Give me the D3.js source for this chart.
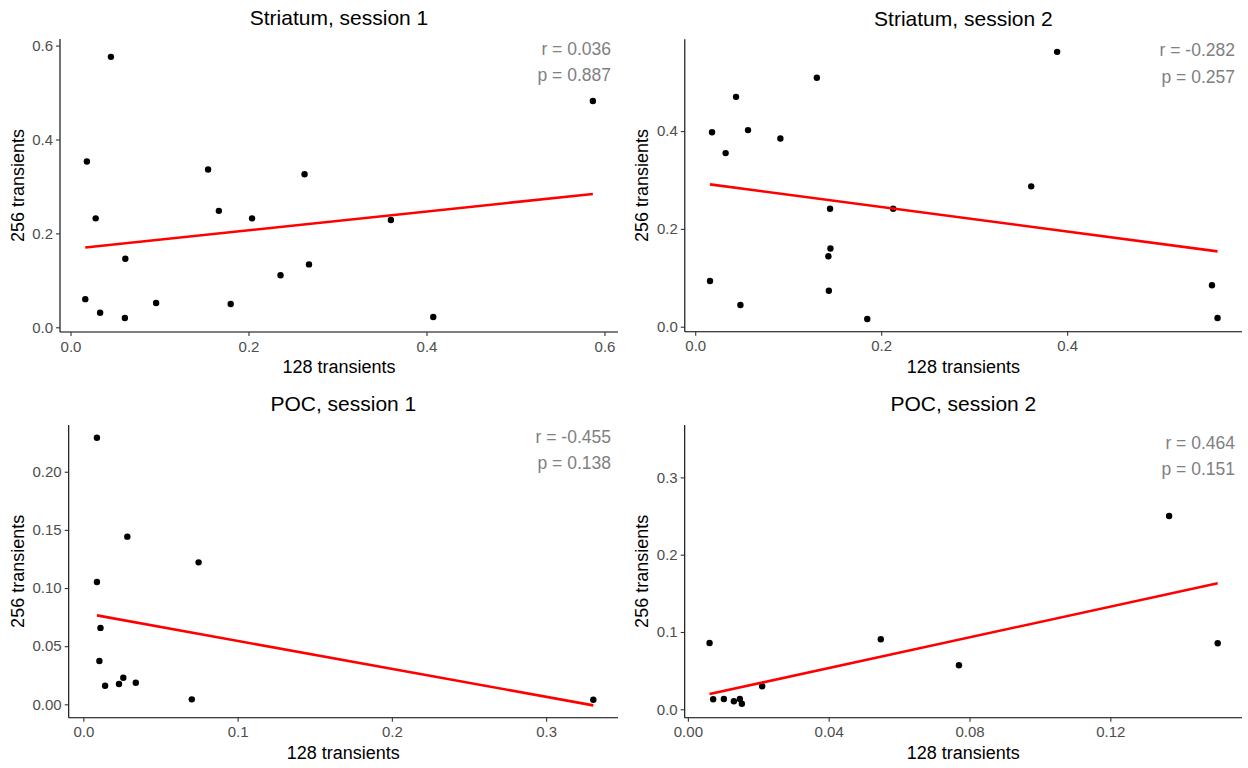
<!DOCTYPE html>
<html lang="en">
<head>
    <meta charset="UTF-8">
    <title>128 vs 256 transients</title>
    <script src="https://cdnjs.cloudflare.com/ajax/libs/d3/7.8.5/d3.min.js"></script>
    <style>
        body { margin: 0; background: #ffffff; }
        text { font-family: Arial, "Liberation Sans", sans-serif; }
    </style>
</head>
<body>
    <script>
        // Panel titles
        var titles = ["Striatum, session 1", "Striatum, session 2", "POC, session 1", "POC, session 2"];

        // Points: x = 128 transients, y = 256 transients
        var striatum1X = [0.0454, 0.0184, 0.0283, 0.0616, 0.0166, 0.0333, 0.0611, 0.0962, 0.1546, 0.1667, 0.180, 0.204, 0.236, 0.263, 0.268, 0.360, 0.4076, 0.587];
        var striatum1Y = [0.576, 0.353, 0.232, 0.146, 0.060, 0.031, 0.0198, 0.0518, 0.336, 0.248, 0.0496, 0.232, 0.111, 0.326, 0.134, 0.2285, 0.022, 0.482];

        var striatum2X = [0.0181, 0.0327, 0.0439, 0.0568, 0.0916, 0.1308, 0.0159, 0.0486, 0.145, 0.1454, 0.1432, 0.1437, 0.185, 0.2129, 0.3613, 0.3892, 0.5557, 0.5617];
        var striatum2Y = [0.3975, 0.355, 0.470, 0.402, 0.385, 0.509, 0.0935, 0.0444, 0.2413, 0.160, 0.144, 0.0736, 0.0157, 0.2413, 0.287, 0.562, 0.0847, 0.0178];

        var poc1X = [0.0088, 0.0088, 0.0285, 0.0747, 0.0111, 0.0104, 0.0141, 0.0231, 0.0259, 0.034, 0.0703, 0.3306];
        var poc1Y = [0.2293, 0.1052, 0.1442, 0.1221, 0.0657, 0.0373, 0.016, 0.0175, 0.0229, 0.0186, 0.0043, 0.0040];

        var poc2X = [0.00616, 0.00719, 0.01023, 0.01307, 0.01477, 0.01534, 0.0211, 0.0548, 0.077, 0.1367, 0.1505];
        var poc2Y = [0.0858, 0.0129, 0.0133, 0.0103, 0.0133, 0.0072, 0.0298, 0.0906, 0.0569, 0.250, 0.0854];

        // Linear fit: y at the smallest and largest x of each panel
        var fitY = [[0.170, 0.284], [0.291, 0.154], [0.0765, -0.0009], [0.0198, 0.163]];

        // Correlation labels
        var rValues = ["0.036", "-0.282", "-0.455", "0.464"];
        var pValues = ["0.887", "0.257", "0.138", "0.151"];

        // Axis limits and ticks
        var xDomains = [[-0.0118, 0.6152], [-0.0112, 0.588], [-0.0095, 0.3466], [-0.0009, 0.1574]];
        var yDomains = [[-0.010, 0.614], [-0.0102, 0.5877], [-0.0115, 0.2402], [-0.0109, 0.3678]];
        var xTicks = [[0, 0.2, 0.4, 0.6], [0, 0.2, 0.4], [0, 0.1, 0.2, 0.3], [0, 0.04, 0.08, 0.12]];
        var yTicks = [[0, 0.2, 0.4, 0.6], [0, 0.2, 0.4], [0, 0.05, 0.10, 0.15, 0.20], [0, 0.1, 0.2, 0.3]];
        var xFormats = [".1f", ".1f", ".1f", ".2f"];
        var yFormats = [".1f", ".1f", ".2f", ".1f"];

        var xs = [striatum1X, striatum2X, poc1X, poc2X];
        var ys = [striatum1Y, striatum2Y, poc1Y, poc2Y];

        // Plot area of each panel in pixels
        var boxes = [
            {left: 60, right: 618, top: 39, bottom: 332, labelTop: 9.5},
            {left: 684.8, right: 1242, top: 39.3, bottom: 331.7, labelTop: 11},
            {left: 68.7, right: 618, top: 425, bottom: 717.7, labelTop: 11.5},
            {left: 684.7, right: 1242, top: 425, bottom: 717.7, labelTop: 17.5}
        ];
        var panelX = [0, 624, 0, 624];

        var svg = d3.select("body")
            .append("svg")
            .attr("width", 1248)
            .attr("height", 768);

        boxes.forEach(function(b, i) {
            var xScale = d3.scaleLinear().domain(xDomains[i]).range([b.left, b.right]);
            var yScale = d3.scaleLinear().domain(yDomains[i]).range([b.bottom, b.top]);
            var g = svg.append("g");

            // points
            var pts = xs[i].map(function(x, k) { return {x: x, y: ys[i][k]}; });
            g.selectAll("circle")
                .data(pts)
                .enter()
                .append("circle")
                .attr("cx", function(d) { return xScale(d.x); })
                .attr("cy", function(d) { return yScale(d.y); })
                .attr("r", 3.2)
                .attr("fill", "#000000");

            // fit line
            var ext = d3.extent(xs[i]);
            var fit = [{x: ext[0], y: fitY[i][0]}, {x: ext[1], y: fitY[i][1]}];
            g.append("path")
                .datum(fit)
                .attr("d", d3.line().x(function(d) { return xScale(d.x); }).y(function(d) { return yScale(d.y); }))
                .attr("stroke", "#ff0000")
                .attr("stroke-width", 2.6)
                .attr("fill", "none");

            // axes
            var xAxis = g.append("g")
                .attr("transform", "translate(0," + b.bottom + ")")
                .call(d3.axisBottom(xScale).tickValues(xTicks[i]).tickFormat(d3.format(xFormats[i])).tickSizeInner(4).tickSizeOuter(0).tickPadding(3));
            var yAxis = g.append("g")
                .attr("transform", "translate(" + b.left + ",0)")
                .call(d3.axisLeft(yScale).tickValues(yTicks[i]).tickFormat(d3.format(yFormats[i])).tickSizeInner(4).tickSizeOuter(0).tickPadding(3));
            [xAxis, yAxis].forEach(function(a) {
                a.select(".domain").attr("stroke", "#000000").attr("stroke-width", 1.1);
                a.selectAll(".tick line").attr("stroke", "#333333").attr("stroke-width", 1.1);
                a.selectAll(".tick text").attr("fill", "#4d4d4d").style("font-size", "15px");
            });
            // stretch the axis lines to the full plot area
            xAxis.select(".domain").attr("d", "M" + b.left + ",0H" + b.right);
            yAxis.select(".domain").attr("d", "M0," + b.top + "V" + b.bottom);
            xAxis.selectAll(".tick text").attr("y", 9).attr("dy", "0.71em");

            // title
            g.append("text")
                .attr("x", (b.left + b.right) / 2)
                .attr("y", b.top - 21)
                .attr("dy", "0.35em")
                .attr("text-anchor", "middle")
                .style("font-size", "21px")
                .attr("fill", "#000000")
                .text(titles[i]);

            // axis titles
            g.append("text")
                .attr("x", (b.left + b.right) / 2)
                .attr("y", b.bottom + 35)
                .attr("dy", "0.35em")
                .attr("text-anchor", "middle")
                .style("font-size", "18px")
                .attr("fill", "#000000")
                .text("128 transients");
            g.append("text")
                .attr("transform", "translate(" + (panelX[i] + 18) + "," + ((b.top + b.bottom) / 2) + ") rotate(-90)")
                .attr("dy", "0.35em")
                .attr("text-anchor", "middle")
                .style("font-size", "18px")
                .attr("fill", "#000000")
                .text("256 transients");

            // r and p labels
            var lab = g.append("text")
                .attr("text-anchor", "end")
                .style("font-size", "17.5px")
                .attr("fill", "#808080");
            lab.append("tspan")
                .attr("x", b.right - 7)
                .attr("y", b.top + b.labelTop)
                .attr("dy", "0.35em")
                .text("r = " + rValues[i]);
            lab.append("tspan")
                .attr("x", b.right - 7)
                .attr("y", b.top + b.labelTop + 26.7)
                .attr("dy", "0.35em")
                .text("p = " + pValues[i]);
        });
    </script>
</body>
</html>
